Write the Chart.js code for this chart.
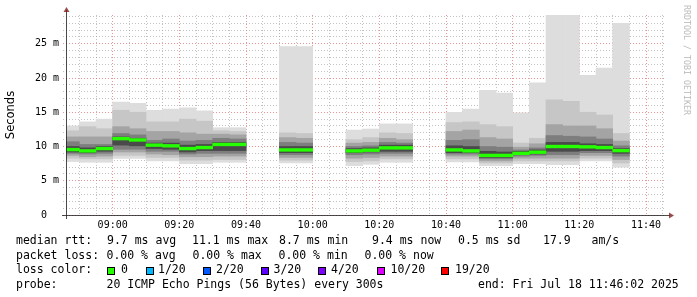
<!DOCTYPE html>
<html>
<head>
<meta charset="utf-8">
<script src="https://cdn.jsdelivr.net/npm/chart.js"></script>
<style>
  body { margin: 0; background: #fff; }
  #wrap { position: relative; width: 697px; height: 297px; overflow: hidden; background: #fff; }
  #chart { position: absolute; left: 0; top: 0; }
  .t { position: absolute; font-family: "DejaVu Sans Mono", monospace; font-size: 11.5px; line-height: 14.5px; color: #000; white-space: pre; }
  .box { position: absolute; width: 8px; height: 8px; box-sizing: border-box; border: 1px solid #000; }
  #mark { position: absolute; left: 691px; top: 5px; transform: rotate(90deg); transform-origin: left top;
          font-family: "DejaVu Sans Mono", monospace; font-size: 8.3px; line-height: 9px; color: #bbb; white-space: pre; }
</style>
</head>
<body>
<div id="wrap">
  <canvas id="chart" width="697" height="297"></canvas>
  <div id="mark">RRDTOOL / TOBI OETIKER</div>

  <div class="t" style="left:16px;top:232.8px">median rtt:</div>
  <div class="t" style="left:107px;top:232.8px">9.7 ms avg</div>
  <div class="t" style="left:192px;top:232.8px">11.1 ms max</div>
  <div class="t" style="left:279px;top:232.8px">8.7 ms min</div>
  <div class="t" style="left:372px;top:232.8px">9.4 ms now</div>
  <div class="t" style="left:458px;top:232.8px">0.5 ms sd</div>
  <div class="t" style="left:543px;top:232.8px">17.9   am/s</div>

  <div class="t" style="left:16px;top:247.5px">packet loss:</div>
  <div class="t" style="left:106.5px;top:247.5px">0.00 % avg</div>
  <div class="t" style="left:192.5px;top:247.5px">0.00 % max</div>
  <div class="t" style="left:278.5px;top:247.5px">0.00 % min</div>
  <div class="t" style="left:364.5px;top:247.5px">0.00 % now</div>

  <div class="t" style="left:16px;top:262.1px">loss color:</div>
  <div id="losslegend"></div>

  <div class="t" style="left:16px;top:276.5px">probe:</div>
  <div class="t" style="left:106.5px;top:276.5px">20 ICMP Echo Pings (56 Bytes) every 300s</div>
  <div class="t" style="left:478px;top:276.5px">end: Fri Jul 18 11:46:02 2025</div>
</div>
<script>
// 5 minute buckets (start time), one per column of smoke
const buckets = ["08:45","08:50","08:55","09:00","09:05","09:10","09:15","09:20","09:25","09:30","09:35",
  "09:50","09:55","10:10","10:15","10:20","10:25",
  "10:40","10:45","10:50","10:55","11:00","11:05","11:10","11:15","11:20","11:25","11:30"];

// values in ms
const minRtt = [7.8,7.7,7.7,8.25,8.25,7.9,7.9,7.5,7.5,7.7,7.7,7.6,7.6,7.2,7.4,7.7,7.7,7.75,7.75,7.2,7.2,7.5,7.5,7.33,7.33,7.9,7.9,7.0];
const maxRtt = [13.0,13.6,14.0,16.5,16.3,15.3,15.45,15.65,15.2,12.75,12.75,24.6,24.6,12.4,12.55,13.3,13.3,15.0,15.45,18.2,17.8,14.9,19.3,29.2,29.2,20.4,21.45,28.0];
const medianRtt = [9.55,9.36,9.7,11.15,10.96,10.2,10.1,9.7,9.85,10.3,10.3,9.5,9.5,9.36,9.46,9.8,9.8,9.5,9.36,8.7,8.7,9.0,9.17,10.0,10.0,9.95,9.85,9.4];

// inner smoke bands [low, high], from outer to inner
const smoke2 = [[8.3,12.3],[8.2,12.9],[8.2,12.6],[8.7,15.3],[8.7,15.0],[8.4,13.6],[8.4,13.6],[8.0,14.0],[8.0,13.7],[8.1,12.3],[8.1,12.2],
  [8.0,12.0],[8.0,11.9],[7.8,11.0],[7.9,11.3],[8.2,12.0],[8.2,11.9],
  [8.2,13.5],[8.2,13.6],[7.6,13.2],[7.6,12.9],[7.9,10.5],[7.9,11.2],[7.9,16.8],[7.9,16.6],[8.3,15.0],[8.3,14.6],[7.6,11.9]];
const smoke3 = [[8.7,11.4],[8.5,11.4],[8.6,11.4],[9.2,12.9],[9.2,12.6],[8.9,12.2],[8.8,12.2],[8.5,12.0],[8.5,11.8],[8.6,11.8],[8.6,11.7],
  [8.4,11.3],[8.4,11.2],[8.3,10.5],[8.4,10.6],[8.6,11.2],[8.6,11.0],
  [8.6,12.2],[8.6,12.4],[7.9,11.3],[7.9,11.1],[8.3,9.9],[8.3,10.4],[8.3,13.2],[8.3,13.0],[8.7,13.0],[8.7,12.6],[8.1,10.8]];
const smoke4 = [[9.0,10.7],[8.9,10.3],[9.0,10.3],[9.6,11.9],[9.6,11.7],[9.3,10.9],[9.3,11.1],[8.9,10.8],[9.0,10.9],[9.0,11.2],[9.0,11.1],
  [8.8,10.6],[8.8,10.5],[8.8,10.0],[8.9,10.1],[9.0,10.6],[9.0,10.5],
  [8.9,10.9],[8.9,11.0],[8.2,10.0],[8.2,9.9],[8.6,9.5],[8.7,9.8],[8.8,11.6],[8.8,11.5],[9.1,11.4],[9.1,11.1],[8.6,10.1]];
const smoke5 = [[9.2,10.0],[9.1,9.8],[9.3,10.0],[10.2,11.4],[10.1,11.2],[9.7,10.5],[9.6,10.5],[9.2,10.2],[9.4,10.3],[9.4,10.6],[9.4,10.6],
  [9.1,10.0],[9.1,10.0],[9.1,9.7],[9.2,9.8],[9.3,10.2],[9.3,10.2],
  [9.1,10.1],[9.1,10.0],[8.4,9.3],[8.4,9.2],[8.8,9.3],[8.9,9.5],[9.3,10.6],[9.3,10.6],[9.4,10.4],[9.4,10.3],[9.0,9.7]];

const lossLabels = ["0", "1/20", "2/20", "3/20", "4/20", "10/20", "19/20"];
const lossColors = ["#26ff00", "#00b8ff", "#0059ff", "#5e00ff", "#7e00ff", "#dd00ff", "#ff0000"];

// legend row layout
const lossBoxX = [107, 146, 203, 261, 318, 377, 441];
const lossTextX = [121, 158, 216, 273.5, 331, 390.5, 455];
const lossLegend = document.getElementById("losslegend");
lossLabels.forEach((lab, i) => {
  const b = document.createElement("div");
  b.className = "box";
  b.style.left = lossBoxX[i] + "px";
  b.style.top = "267px";
  b.style.background = lossColors[i];
  lossLegend.appendChild(b);
  const t = document.createElement("div");
  t.className = "t";
  t.style.left = lossTextX[i] + "px";
  t.style.top = "262.1px";
  t.textContent = lab;
  lossLegend.appendChild(t);
});

const toMin = (s) => {
  const [h, m] = s.split(":").map(Number);
  return h * 60 + m;
};
const centers = buckets.map((b) => toMin(b) + 2.5);
const fmt = (v) => String(Math.floor(v / 60)).padStart(2, "0") + ":" + String(v % 60).padStart(2, "0");

const MEDIAN_HALF = 0.2;
const band = (lo, hi) => centers.map((x, i) => ({ x: x, y: [lo[i], hi[i]] }));

const barStyle = {
  type: "bar",
  grouped: false,
  categoryPercentage: 1,
  barPercentage: 1,
  borderWidth: 0,
};

const gridMinor = "rgba(143,143,143,0.55)";
const gridMajor = "rgba(222,79,79,0.6)";

const axesPlugin = {
  id: "rrdAxes",
  afterDraw(chart) {
    const { ctx, chartArea: a } = chart;
    const x0 = a.left + 0.5;
    const y0 = a.bottom + 0.5;
    ctx.save();
    ctx.strokeStyle = "rgba(31,31,31,0.8)";
    ctx.lineWidth = 1;
    ctx.beginPath();
    ctx.moveTo(a.left - 4, y0);
    ctx.lineTo(a.right + 4, y0);
    ctx.moveTo(x0, a.bottom + 4);
    ctx.lineTo(x0, a.top - 5);
    ctx.stroke();
    ctx.fillStyle = "rgba(128,31,31,0.8)";
    ctx.beginPath();
    ctx.moveTo(a.right + 3, y0 - 3);
    ctx.lineTo(a.right + 8, y0);
    ctx.lineTo(a.right + 3, y0 + 3);
    ctx.closePath();
    ctx.fill();
    ctx.beginPath();
    ctx.moveTo(x0 - 3, a.top - 3);
    ctx.lineTo(x0, a.top - 8);
    ctx.lineTo(x0 + 3, a.top - 3);
    ctx.closePath();
    ctx.fill();
    ctx.restore();
  },
};

new Chart(document.getElementById("chart"), {
  data: {
    datasets: [
      { ...barStyle, label: "median", data: band(medianRtt.map((m) => m - MEDIAN_HALF), medianRtt.map((m) => m + MEDIAN_HALF)), backgroundColor: "#26ff00", order: 0 },
      { ...barStyle, label: "smoke5", data: band(smoke5.map((p) => p[0]), smoke5.map((p) => p[1])), backgroundColor: "#4a4a4a", order: 1 },
      { ...barStyle, label: "smoke4", data: band(smoke4.map((p) => p[0]), smoke4.map((p) => p[1])), backgroundColor: "#7e7e7e", order: 2 },
      { ...barStyle, label: "smoke3", data: band(smoke3.map((p) => p[0]), smoke3.map((p) => p[1])), backgroundColor: "#a4a4a4", order: 3 },
      { ...barStyle, label: "smoke2", data: band(smoke2.map((p) => p[0]), smoke2.map((p) => p[1])), backgroundColor: "#c6c6c6", order: 4 },
      { ...barStyle, label: "smoke1", data: band(minRtt, maxRtt), backgroundColor: "#dddddd", order: 5 },
    ],
  },
  options: {
    responsive: false,
    devicePixelRatio: 1,
    animation: false,
    layout: { padding: { left: 0, top: 15, right: 31, bottom: 62 } },
    plugins: { legend: { display: false }, tooltip: { enabled: false } },
    scales: {
      x: {
        type: "linear",
        offset: false,
        min: toMin("08:46"),
        max: toMin("11:46"),
        z: 1,
        afterFit: (s) => { s.height = 20; },
        afterBuildTicks: (s) => {
          const t = [];
          for (let v = 530; v <= 705; v += 5) t.push({ value: v });
          s.ticks = t;
        },
        grid: {
          offset: false,
          color: (c) => (c.tick && c.tick.value % 20 === 0 ? gridMajor : gridMinor),
          drawTicks: false,
        },
        border: { display: false, dash: [1, 2] },
        ticks: {
          autoSkip: false,
          maxRotation: 0,
          padding: 4,
          color: "#000",
          font: { family: "DejaVu Sans Mono", size: 10 },
          callback: (v) => (v % 20 === 0 ? fmt(v) : ""),
        },
      },
      y: {
        min: 0,
        max: 29.2,
        z: 1,
        afterFit: (s) => { s.width = 66; },
        afterBuildTicks: (s) => {
          const t = [];
          for (let v = 0; v <= 29; v += 1) t.push({ value: v });
          s.ticks = t;
        },
        grid: {
          color: (c) => (c.tick && c.tick.value % 5 === 0 ? gridMajor : gridMinor),
          drawTicks: true,
          tickLength: 3,
          tickBorderDash: [1, 2],
        },
        border: { display: false, dash: [1, 2] },
        ticks: {
          autoSkip: false,
          padding: 4,
          color: "#000",
          font: { family: "DejaVu Sans Mono", size: 10 },
          callback: (v) => (v % 5 === 0 ? (v === 0 ? "0  " : v + " m") : ""),
        },
        title: {
          display: true,
          text: "Seconds",
          color: "#000",
          font: { family: "DejaVu Sans", size: 11.5 },
          padding: { top: 4, bottom: 0 },
        },
      },
    },
  },
  plugins: [axesPlugin],
});
</script>
</body>
</html>
